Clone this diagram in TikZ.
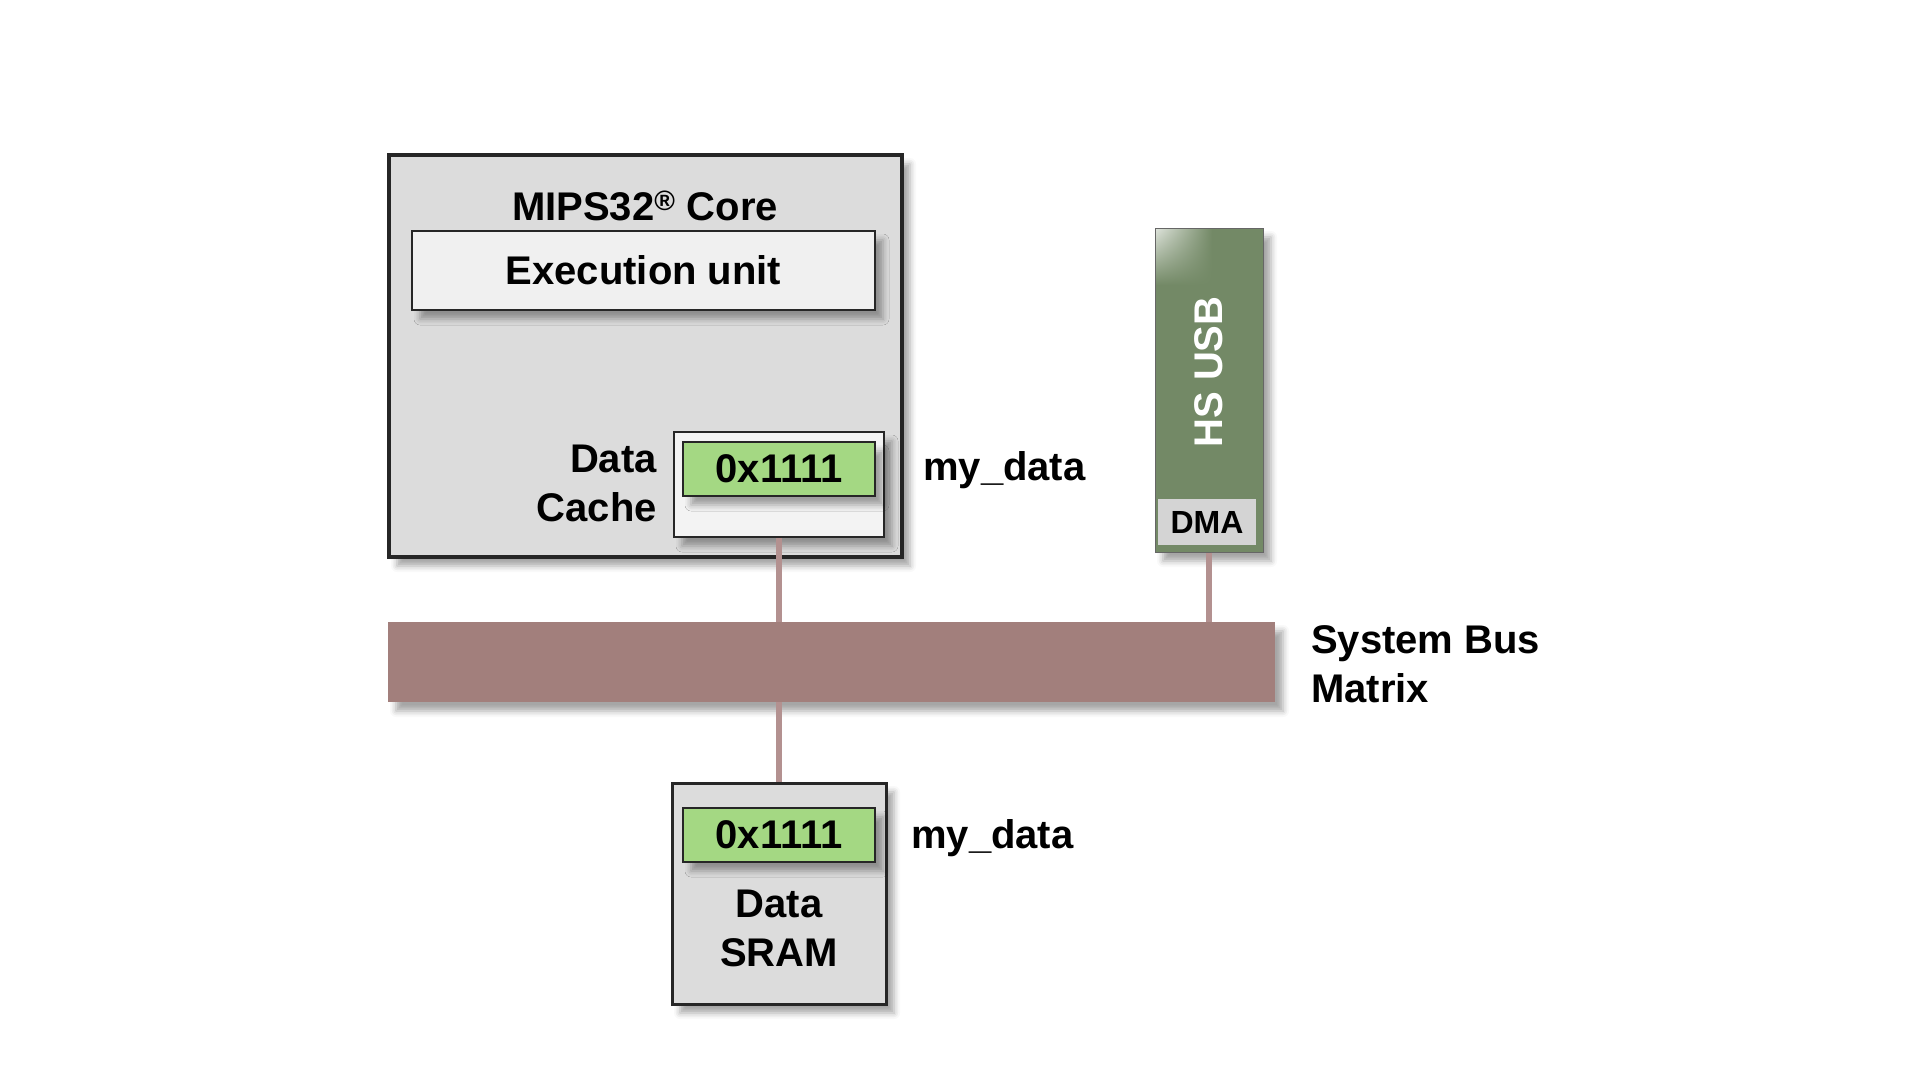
\documentclass[tikz,border=0pt]{standalone}
\usepackage{fontspec}
\setmainfont{Liberation Sans}
\usetikzlibrary{shapes}
\usetikzlibrary{positioning}
\usetikzlibrary{shadows.blur}
\usetikzlibrary{shadings}
\usetikzlibrary{calc}

\definecolor{coregray}{HTML}{DCDCDC}
\definecolor{unitgray}{HTML}{F0F0F0}
\definecolor{datagreen}{HTML}{A4D883}
\definecolor{usbgreen}{HTML}{738966}
\definecolor{dmagray}{HTML}{D4D4D4}
\definecolor{busrose}{HTML}{A27F7C}
\definecolor{linkrose}{HTML}{B39190}

\begin{document}
\begin{tikzpicture}[x=1pt,y=-1pt]
\tikzstyle{softshadow} = [blur shadow={shadow xshift=8pt, shadow yshift=-9pt, shadow blur radius=6pt, shadow opacity=35}]
\tikzstyle{block} = [rectangle, draw=black!85, line width=1.5pt, inner sep=0pt, softshadow, font=\fontsize{40}{49}\selectfont\bfseries]
\tikzstyle{outer} = [block, fill=coregray, line width=3.5pt]
\tikzstyle{value} = [block, fill=datagreen, minimum width=192, minimum height=54]
\tikzstyle{label} = [inner sep=0pt, font=\fontsize{40}{49}\selectfont\bfseries]
\tikzstyle{link} = [draw=linkrose, line width=6pt]
\useasboundingbox (0,0) rectangle (1920,1080);
% core
\node [outer, minimum width=513, minimum height=402] (core) at (645.5,356) {};
\node [label, anchor=base] (coretitle) at (645,220) {MIPS32\textsuperscript{®} Core};
\node [block, fill=unitgray, minimum width=463, minimum height=79] (exec) at (643.5,270.5) {Execution unit};
\node [block, fill=unitgray!80!white, minimum width=210, minimum height=105] (cache) at (779,484.5) {};
\node [value] (cachedata) at (779,469) {0x1111};
\node [label, align=right, anchor=east] (cachetext) at (657,483) {Data\\Cache};
\node [label, anchor=base west] (cachename) at (923,480) {my\_data};
% usb
\node [block, fill=usbgreen, draw=black!60, line width=1pt, minimum width=108, minimum height=324] (usb) at (1209,390) {};
\shade [upper left=white!75!usbgreen, upper right=usbgreen, lower left=usbgreen, lower right=usbgreen] (1156,229) rectangle (1212,285);
\node [label, text=white, rotate=90] (usbtext) at (1209,372) {HS USB};
\node [rectangle, fill=dmagray, inner sep=0pt, minimum width=98, minimum height=46, font=\fontsize{32}{38}\selectfont\bfseries] (dma) at (1207,522) {DMA};
% bus
\node [rectangle, fill=busrose, inner sep=0pt, softshadow, minimum width=887, minimum height=80] (bus) at (831.5,662) {};
\node [label, align=left, anchor=west] (bustext) at (1311,664.5) {System Bus\\Matrix};
% sram
\node [outer, line width=3pt, minimum width=214, minimum height=221] (sram) at (779,893.5) {};
\node [value] (sramdata) at (779,835) {0x1111};
\node [label, align=center] (sramtext) at (779,928) {Data\\SRAM};
\node [label, anchor=base west] (sramname) at (911,848) {my\_data};
% links
\draw [link] (cache.south) -- (cache.south |- bus.north);
\draw [link] (usb.south) -- (usb.south |- bus.north);
\draw [link] (bus.south -| sram.north) -- (sram.north);
\end{tikzpicture}
\end{document}
